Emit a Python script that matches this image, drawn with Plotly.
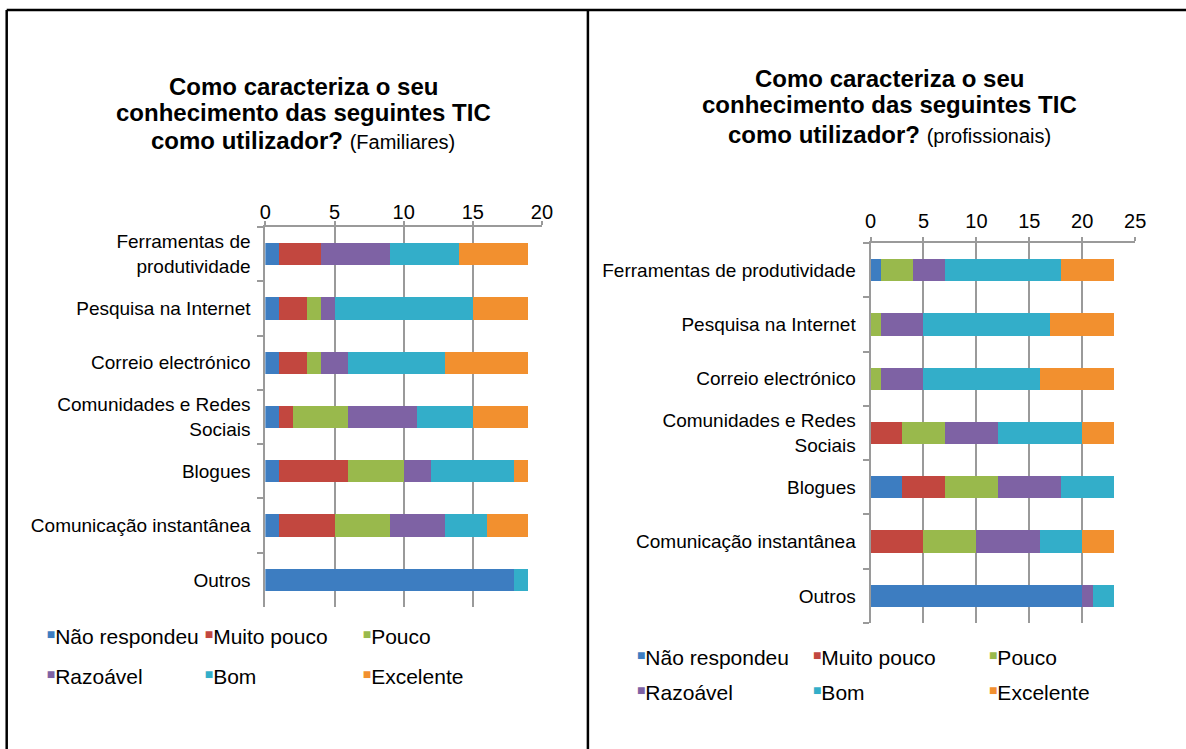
import plotly.graph_objects as go

W, H = 1186, 749

# Categories (top to bottom)
categorias = [
    "Ferramentas de produtividade",
    "Pesquisa na Internet",
    "Correio electrónico",
    "Comunidades e Redes Sociais",
    "Blogues",
    "Comunicação instantânea",
    "Outros",
]
rotulos_fam = [
    "Ferramentas de<br>produtividade",
    "Pesquisa na Internet",
    "Correio electrónico",
    "Comunidades e Redes<br>Sociais",
    "Blogues",
    "Comunicação instantânea",
    "Outros",
]
rotulos_prof = [
    "Ferramentas de produtividade",
    "Pesquisa na Internet",
    "Correio electrónico",
    "Comunidades e Redes<br>Sociais",
    "Blogues",
    "Comunicação instantânea",
    "Outros",
]

series = ["Não respondeu", "Muito pouco", "Pouco", "Razoável", "Bom", "Excelente"]
cores = ["#3d7dc1", "#c2473f", "#99b94c", "#7e62a4", "#33aec9", "#f2902f"]

# Familiares
fam_nao_respondeu = [1, 1, 1, 1, 1, 1, 18]
fam_muito_pouco = [3, 2, 2, 1, 5, 4, 0]
fam_pouco = [0, 1, 1, 4, 4, 4, 0]
fam_razoavel = [5, 1, 2, 5, 2, 4, 0]
fam_bom = [5, 10, 7, 4, 6, 3, 1]
fam_excelente = [5, 4, 6, 4, 1, 3, 0]

# Profissionais
prof_nao_respondeu = [1, 0, 0, 0, 3, 0, 20]
prof_muito_pouco = [0, 0, 0, 3, 4, 5, 0]
prof_pouco = [3, 1, 1, 4, 5, 5, 0]
prof_razoavel = [3, 4, 4, 5, 6, 6, 1]
prof_bom = [11, 12, 11, 8, 5, 4, 2]
prof_excelente = [5, 6, 7, 3, 0, 3, 0]

fam = [fam_nao_respondeu, fam_muito_pouco, fam_pouco, fam_razoavel, fam_bom, fam_excelente]
prof = [prof_nao_respondeu, prof_muito_pouco, prof_pouco, prof_razoavel, prof_bom, prof_excelente]

FONT = "Liberation Sans, Arial, Helvetica, sans-serif"
GRID = "#9a9a9a"


def px_x(p):
    # horizontal pixel -> paper fraction (small correction for the page's drawn width)
    return ((p - 4.3) / 0.987) / W


def px_y(p):
    return 1 - p / H


def legend_label(nome, cor):
    # small raised colour square right before the series name
    return ("<span style='color:%s;font-size:14px;baseline-shift:5px'>■</span>%s"
            % (cor, nome))


fig = go.Figure()

panels = [
    (fam, "x", "y", ("legend", "legend2")),
    (prof, "x2", "y2", ("legend3", "legend4")),
]
for dados, xa, ya, legs in panels:
    for i, nome in enumerate(series):
        fig.add_trace(go.Bar(
            y=categorias, x=dados[i], orientation="h", name=nome,
            marker=dict(color=cores[i], line=dict(width=0)),
            xaxis=xa, yaxis=ya, showlegend=False,
            hoverinfo="x+name",
        ))
    # legend entries for this panel (symbol drawn inside the label text)
    for i, nome in enumerate(series):
        fig.add_trace(go.Scatter(
            x=[None], y=[None], mode="markers", name=legend_label(nome, cores[i]),
            marker=dict(color="rgba(0,0,0,0)", opacity=0, size=0,
                        line=dict(width=0)),
            xaxis=xa, yaxis=ya, showlegend=True,
            legend=legs[0] if i < 3 else legs[1], hoverinfo="skip",
        ))

xcommon = dict(
    side="top", dtick=5, showgrid=True, gridcolor=GRID, gridwidth=2,
    showline=True, linecolor=GRID, linewidth=2, ticks="outside",
    tickcolor=GRID, tickwidth=2, ticklen=4, zeroline=False,
    tickfont=dict(family=FONT, size=20, color="#000"),
)
ycommon = dict(
    type="category", categoryorder="array", categoryarray=categorias,
    autorange="reversed", showline=True, linecolor=GRID, linewidth=2,
    ticks="outside", tickson="boundaries", ticklen=6, tickcolor=GRID,
    tickwidth=2, showgrid=False, ticklabelstandoff=9,
    tickfont=dict(family=FONT, size=19, color="#000"),
)

legcommon = dict(
    orientation="h", xanchor="left", yanchor="middle", traceorder="normal",
    font=dict(family=FONT, size=21, color="#000"),
    bgcolor="rgba(0,0,0,0)", itemwidth=30, itemclick=False,
    itemdoubleclick=False,
)

fig.update_layout(
    width=W, height=H,
    margin=dict(l=0, r=0, t=0, b=0),
    paper_bgcolor="white", plot_bgcolor="white",
    barmode="stack", bargap=0.59,
    showlegend=True,
    xaxis=dict(xcommon, domain=[px_x(264), px_x(541)], range=[0, 20], anchor="y",
               ticklabelstandoff=-6),
    yaxis=dict(ycommon, domain=[px_y(607), px_y(227)], anchor="x",
               tickvals=categorias, ticktext=rotulos_fam),
    xaxis2=dict(xcommon, domain=[px_x(870), px_x(1135)], range=[0, 25], anchor="y2",
                ticklabelstandoff=1),
    yaxis2=dict(ycommon, domain=[px_y(623), px_y(243)], anchor="x2",
                tickvals=categorias, ticktext=rotulos_prof),
    legend=dict(legcommon, x=px_x(5), y=px_y(636), entrywidth=113),
    legend2=dict(legcommon, x=px_x(5), y=px_y(676), entrywidth=113),
    legend3=dict(legcommon, x=px_x(596), y=px_y(657), entrywidth=131),
    legend4=dict(legcommon, x=px_x(596), y=px_y(692), entrywidth=131),
)

# Titles, one annotation per line
titulos = [
    (302, [86, 112, 140], "(Familiares)"),
    (889, [78, 104, 135], "(profissionais)"),
]
for cx, ys, sub in titulos:
    linhas = [
        "<b>Como caracteriza o seu</b>",
        "<b>conhecimento das seguintes TIC</b>",
        "<b>como utilizador?</b> <span style='font-size:20px'>" + sub + "</span>",
    ]
    for txt, yy in zip(linhas, ys):
        fig.add_annotation(
            text=txt, x=px_x(cx), y=px_y(yy), xref="paper", yref="paper",
            xanchor="center", yanchor="middle", showarrow=False,
            font=dict(family=FONT, size=24, color="#000"),
        )

# Frame around the two panels
frame = dict(type="line", xref="paper", yref="paper",
             line=dict(color="#000", width=2.5))
fig.add_shape(frame, x0=px_x(5), x1=px_x(5), y0=px_y(10), y1=0)
fig.add_shape(frame, x0=px_x(5), x1=1.01, y0=px_y(10), y1=px_y(10))
fig.add_shape(frame, x0=px_x(587), x1=px_x(587), y0=px_y(10), y1=0)

fig.write_html(
    "out.html",
    post_script="document.body.style.margin='0';document.body.style.overflow='hidden';",
)
